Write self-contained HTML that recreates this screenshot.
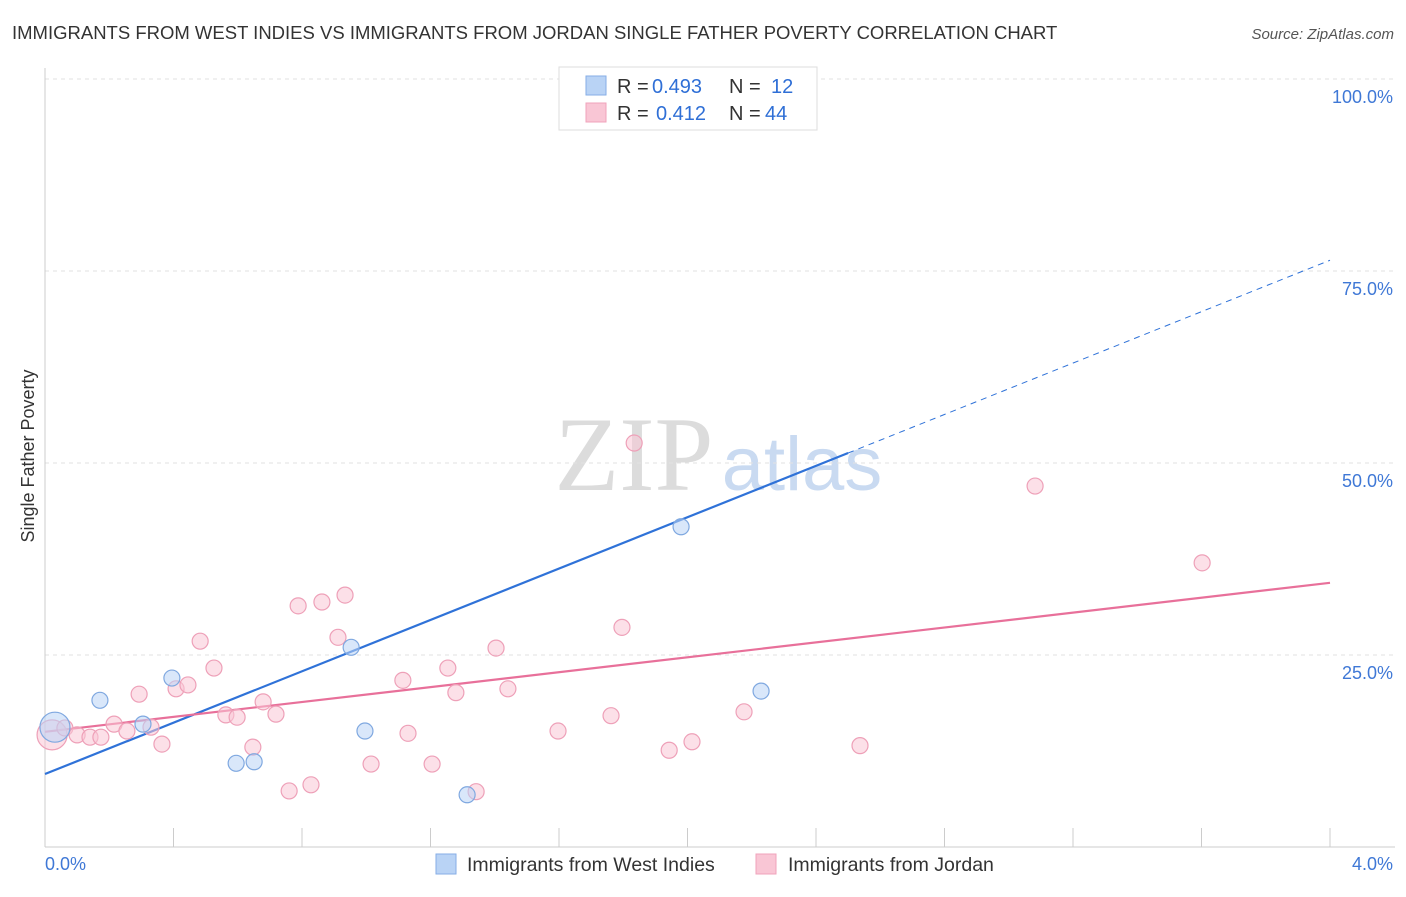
<!DOCTYPE html>
<html><head><meta charset="utf-8"><style>
body{margin:0;background:#fff;font-family:"Liberation Sans",sans-serif;}
</style></head><body>
<svg id="chart" width="1406" height="892" xmlns="http://www.w3.org/2000/svg" font-family="Liberation Sans, sans-serif">
<text x="12" y="39" font-size="18.5" fill="#333">IMMIGRANTS FROM WEST INDIES VS IMMIGRANTS FROM JORDAN SINGLE FATHER POVERTY CORRELATION CHART</text>
<text x="1394" y="39" font-size="15" fill="#555" font-style="italic" text-anchor="end">Source: ZipAtlas.com</text>
<text transform="translate(34,456) rotate(-90)" font-size="18" fill="#333" text-anchor="middle">Single Father Poverty</text>
<g>
<text x="634" y="490" font-size="106" font-family="Liberation Serif, serif" fill="#dcdcdc" text-anchor="middle">ZIP</text>
<text x="802" y="490" font-size="76" fill="#c9daf1" text-anchor="middle">atlas</text>
</g>
<g id="grid"></g><g id="axes"></g><g id="lines"></g><g id="points"></g>
<g>
<rect x="559" y="67" width="258" height="63" fill="#fff" stroke="#ddd"/>
<rect x="586" y="76" width="20" height="19" fill="#b9d3f5" stroke="#86aee6"/>
<rect x="586" y="103" width="20" height="19" fill="#f9c6d5" stroke="#f0a3bb"/>
<text x="617" y="93" font-size="20" fill="#333">R =</text>
<text x="652" y="93" font-size="20" fill="#2f6fd6">0.493</text>
<text x="729" y="93" font-size="20" fill="#333">N =</text>
<text x="771" y="93" font-size="20" fill="#2f6fd6">12</text>
<text x="617" y="120" font-size="20" fill="#333">R =</text>
<text x="656" y="120" font-size="20" fill="#2f6fd6">0.412</text>
<text x="729" y="120" font-size="20" fill="#333">N =</text>
<text x="765" y="120" font-size="20" fill="#2f6fd6">44</text>
</g>
<g>
<rect x="436" y="854" width="20" height="20" fill="#b9d3f5" stroke="#86aee6"/>
<text x="467" y="871" font-size="19.5" fill="#333">Immigrants from West Indies</text>
<rect x="756" y="854" width="20" height="20" fill="#f9c6d5" stroke="#f0a3bb"/>
<text x="788" y="871" font-size="19.5" fill="#333">Immigrants from Jordan</text>
</g>
</svg>
<script>
const blueX=[0.031,0.171,0.395,0.305,0.595,0.651,0.953,0.996,1.314,1.840,1.980,2.229];
const blueY=[15.6,19.1,22.0,16.0,10.9,11.1,26.0,15.1,6.8,100,41.7,20.3];
const pinkX=[0.022,0.062,0.100,0.140,0.174,0.215,0.255,0.293,0.330,0.364,0.408,0.445,0.483,0.526,0.563,0.598,0.647,0.679,0.719,0.760,0.788,0.828,0.862,0.912,0.934,1.015,1.114,1.130,1.205,1.254,1.279,1.342,1.404,1.441,1.597,1.762,1.796,1.834,1.943,2.014,2.176,2.537,3.082,3.602];
const pinkY=[14.6,15.5,14.6,14.3,14.3,16.0,15.1,19.9,15.6,13.4,20.6,21.1,26.8,23.3,17.2,16.9,13.0,18.9,17.3,7.3,31.4,8.1,31.9,27.3,32.8,10.8,21.7,14.8,10.8,23.3,20.1,7.2,25.9,20.6,15.1,17.1,28.6,52.6,12.6,13.7,17.6,13.2,47.0,37.0];
const blueTrend=[9.5,51.3,76.4]; // at x=0, 2.5, 4
const pinkTrend=[15.0,34.4]; // at x=0, 4
const yTicks=[25,50,75,100];
const yTickLabels=["25.0%","50.0%","75.0%","100.0%"];
const NS="http://www.w3.org/2000/svg";
const sx=v=>45+v/4*1285, sy=v=>847-v*7.68;
function mk(p,t,a){const e=document.createElementNS(NS,t);for(const k in a)e.setAttribute(k,a[k]);document.getElementById(p).appendChild(e);return e;}
yTicks.forEach((t,i)=>{
 const g=mk('grid','line',{x1:45,x2:1395,y1:sy(t),y2:sy(t),stroke:'#e2e2e2','stroke-dasharray':'4,4'});
 
 
 const l=mk('grid','text',{x:1393,y:sy(t)+24,'font-size':18,fill:'#3f78d6','text-anchor':'end'});
 
 
 l.textContent=yTickLabels[i];
});
let ax=mk('axes','line',{x1:45,x2:45,y1:68,y2:847,stroke:'#ccc'});


ax=mk('axes','line',{x1:45,x2:1395,y1:847,y2:847,stroke:'#ccc'});


for(let i=1;i<=10;i++){const t=mk('axes','line',{x1:sx(i*0.4),x2:sx(i*0.4),y1:828,y2:847,stroke:'#ccc'});
 
 }
let xl=mk('axes','text',{x:45,y:870,'font-size':18,fill:'#3f78d6'});xl.textContent='0.0%';


xl=mk('axes','text',{x:1393,y:870,'font-size':18,fill:'#3f78d6','text-anchor':'end'});xl.textContent='4.0%';


function pts(X,Y,fill,stroke,name){X.forEach((x,i)=>{const c=mk('points','circle',{cx:sx(x),cy:sy(Y[i]),r:i==0?15:8,fill:fill,'fill-opacity':0.55,stroke:stroke,'stroke-width':1.2});
 
 });}
pts(pinkX,pinkY,'#f9c6d5','#eea0b8','jordan-point');
pts(blueX,blueY,'#b9d3f5','#7fa8e0','west-indies-point');
let ln=mk('lines','line',{x1:sx(0),y1:sy(blueTrend[0]),x2:sx(2.5),y2:sy(blueTrend[1]),stroke:'#2f72d8','stroke-width':2.2});


ln=mk('lines','line',{x1:sx(2.5),y1:sy(blueTrend[1]),x2:sx(4),y2:sy(blueTrend[2]),stroke:'#2f72d8','stroke-width':1,'stroke-dasharray':'6,5'});


ln=mk('lines','line',{x1:sx(0),y1:sy(pinkTrend[0]),x2:sx(4),y2:sy(pinkTrend[1]),stroke:'#e8709a','stroke-width':2.2});


</script>
</body></html>
